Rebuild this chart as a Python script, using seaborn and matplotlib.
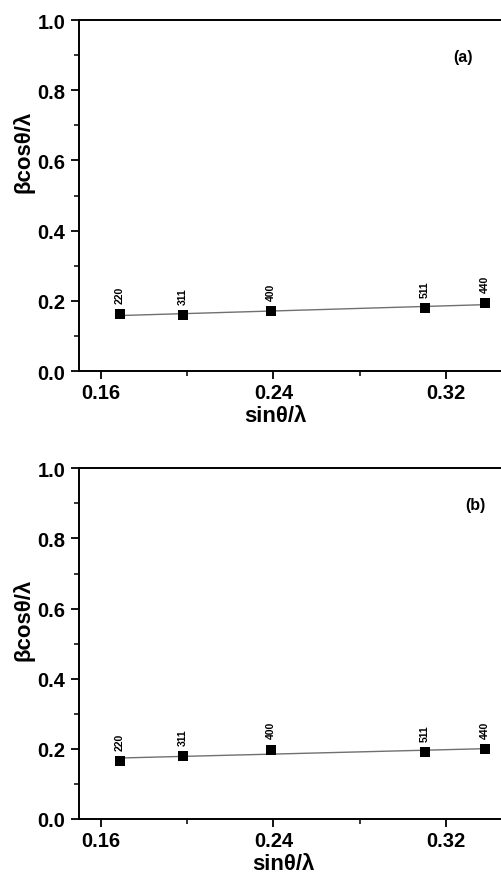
import numpy as np
import pandas as pd
import matplotlib
matplotlib.use("Agg")
import matplotlib.pyplot as plt
from matplotlib.ticker import MultipleLocator
import seaborn as sns

# ---- data ----
sin_theta_lambda = [0.1688, 0.1979, 0.2387, 0.3103, 0.3380]
hkl_labels = ["220", "311", "400", "511", "440"]
beta_cos_a = [0.162, 0.160, 0.170, 0.179, 0.194]
beta_cos_b = [0.166, 0.180, 0.198, 0.190, 0.200]
panel_tags = ["(a)", "(b)"]
x_ticks = [0.16, 0.24, 0.32]
y_ticks = [0.0, 0.2, 0.4, 0.6, 0.8, 1.0]

sns.set_theme(style="ticks")
plt.rcParams["font.family"] = ["Liberation Sans", "DejaVu Sans"]
plt.rcParams["font.weight"] = "bold"
plt.rcParams["text.color"] = "black"
plt.rcParams["axes.labelcolor"] = "black"
plt.rcParams["xtick.color"] = "black"
plt.rcParams["ytick.color"] = "black"

W, H = 502, 879
fig = plt.figure(figsize=(W / 100, H / 100), dpi=100)

left_px = 79.4
width_px = 431.25
panels = [
    dict(y=beta_cos_a, top=21.0, bottom=372.0, tag=panel_tags[0], tagxy=(0.328, 0.895),
         ylab=(-0.105, 0.627), xlab=(0.454, -0.098)),
    dict(y=beta_cos_b, top=469.3, bottom=820.0, tag=panel_tags[1], tagxy=(0.3335, 0.898),
         ylab=(-0.105, 0.57), xlab=(0.472, -0.097)),
]

for p in panels:
    ax = fig.add_axes([left_px / W, 1 - p["bottom"] / H, width_px / W, (p["bottom"] - p["top"]) / H])
    df = pd.DataFrame({"x": sin_theta_lambda, "y": p["y"]})
    sns.regplot(data=df, x="x", y="y", ax=ax, ci=None, marker="s", truncate=True,
                scatter_kws=dict(color="black", s=42, zorder=3, linewidths=0, alpha=1),
                line_kws=dict(color="#707070", lw=1.0, zorder=2))
    for xv, yv, lab in zip(sin_theta_lambda, p["y"], hkl_labels):
        ax.annotate(lab, (xv, yv), xytext=(0, 8), textcoords="offset points",
                    rotation=90, ha="center", va="bottom", fontsize=7.5, fontweight="bold")
    ax.set_xlim(0.15, 0.35)
    ax.set_ylim(0.0, 1.0)
    ax.set_xticks(x_ticks)
    ax.set_xticklabels([f"{v:.2f}" for v in x_ticks])
    ax.set_yticks(y_ticks)
    ax.set_yticklabels([f"{v:.1f}" for v in y_ticks])
    ax.xaxis.set_minor_locator(MultipleLocator(0.04))
    ax.yaxis.set_minor_locator(MultipleLocator(0.1))
    ax.tick_params(axis="x", which="major", pad=2.5)
    ax.tick_params(axis="y", which="major", pad=4)
    ax.tick_params(which="major", direction="out", length=6, width=1.3, labelsize=14.5)
    ax.tick_params(which="minor", direction="out", length=3.5, width=1.1)
    for lbl in ax.get_xticklabels() + ax.get_yticklabels():
        lbl.set_fontweight("bold")
    for sp in ax.spines.values():
        sp.set_visible(True)
        sp.set_linewidth(1.4)
        sp.set_color("black")
    ax.set_xlabel("sinθ/λ", fontsize=16, fontweight="bold")
    ax.set_ylabel("βcosθ/λ", fontsize=16, fontweight="bold")
    ax.xaxis.set_label_coords(*p["xlab"])
    ax.yaxis.set_label_coords(*p["ylab"])
    ax.text(p["tagxy"][0], p["tagxy"][1], p["tag"], fontsize=11.5, fontweight="bold",
            ha="center", va="center")

fig.savefig("out.png", dpi=100)
